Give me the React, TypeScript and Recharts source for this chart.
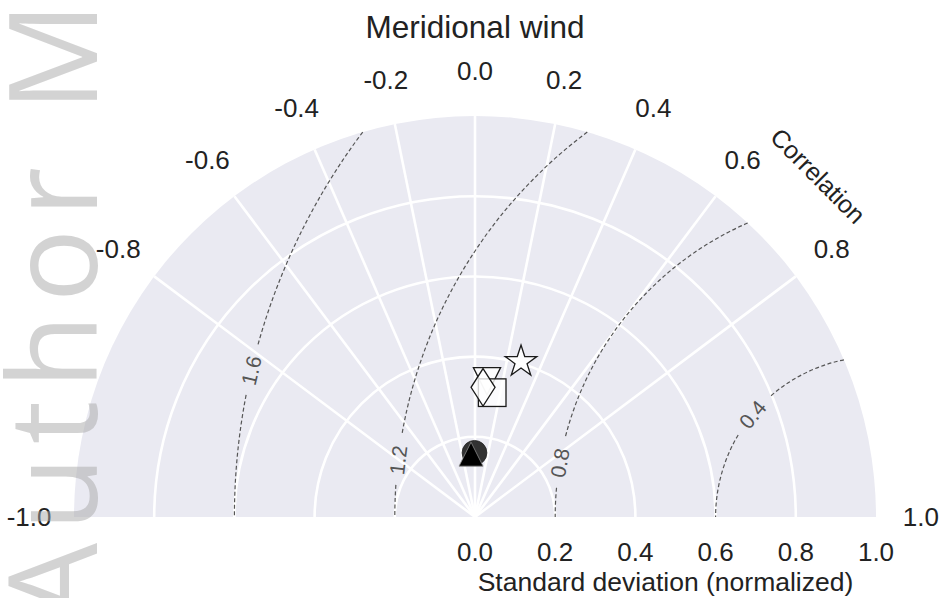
import React from 'react';
import { ScatterChart, Scatter, XAxis, YAxis, ReferenceLine } from 'recharts';

// model points (normalized std dev, correlation)
const modelNames = ['star', 'triDown', 'square', 'diamond', 'circle', 'triUp'];
const stdDevs = [0.404, 0.340, 0.313, 0.324, 0.160, 0.157];
const correlations = [0.284, 0.088, 0.137, 0.062, -0.008, -0.063];

// axes
const corrTicks = [-1.0, -0.8, -0.6, -0.4, -0.2, 0.0, 0.2, 0.4, 0.6, 0.8, 1.0];
const stdTicks = [0.0, 0.2, 0.4, 0.6, 0.8, 1.0];
const stdGrid = [0.2, 0.4, 0.6, 0.8];
const rmsLevels = [0.4, 0.8, 1.2, 1.6];

const FONT = '"Liberation Sans", Arial, Helvetica, sans-serif';
const BG = '#EAEAF2';
// where the inline rms labels sit, angle seen from the reference point (deg)
const rmsLabelAngle: Record<string, number> = { '0.4': 140.3, '0.8': 170.3, '1.2': 173.2, '1.6': 166.8 };

const data = modelNames.map((name, i) => {
  const s = stdDevs[i];
  const c = correlations[i];
  return { name, x: s * c, y: s * Math.sqrt(1 - c * c) };
});

const TaylorBackground = (props: any) => {
  const { x1, y1, x2 } = props;
  const cx = x1;
  const cy = y1;
  const R = x2 - x1;
  const pt = (s: number, c: number) => [cx + s * R * c, cy - s * R * Math.sqrt(Math.max(0, 1 - c * c))];
  const semi = (r: number) => `M ${cx - r} ${cy} A ${r} ${r} 0 0 1 ${cx + r} ${cy}`;

  const refX = cx + R;
  const onRms = (rho: number, phi: number) => [refX + rho * R * Math.cos(phi), cy - rho * R * Math.sin(phi)];

  return (
    <g>
      <path d={semi(R) + ' Z'} fill={BG} stroke="none" />
      {stdGrid.map((s) => (
        <path key={'g' + s} d={semi(s * R)} fill="none" stroke="#fff" strokeWidth={2.6} />
      ))}
      {corrTicks.filter((c) => Math.abs(c) < 1).map((c) => {
        const [px, py] = pt(1, c);
        return <line key={'r' + c} x1={cx} y1={cy} x2={px} y2={py} stroke="#fff" strokeWidth={2.6} />;
      })}

      {rmsLevels.map((rho) => {
        const label = rho.toFixed(1);
        const phi0 = Math.acos(-rho / 2);
        const phiL = (rmsLabelAngle[label] * Math.PI) / 180;
        const gap = 25 / (rho * R);
        const r = rho * R;
        const [ax, ay] = onRms(rho, phi0);
        const [bx, by] = onRms(rho, phiL - gap);
        const [ex, ey] = onRms(rho, phiL + gap);
        const [fx, fy] = onRms(rho, Math.PI);
        const [lx, ly] = onRms(rho, phiL);
        const rot = 90 - rmsLabelAngle[label];
        return (
          <g key={'rms' + rho}>
            <path
              d={`M ${ax} ${ay} A ${r} ${r} 0 0 0 ${bx} ${by} M ${ex} ${ey} A ${r} ${r} 0 0 0 ${fx} ${fy}`}
              fill="none"
              stroke="#555"
              strokeWidth={1.2}
              strokeDasharray="4 2.5"
            />
            <text
              x={lx}
              y={ly}
              transform={`rotate(${rot} ${lx} ${ly})`}
              textAnchor="middle"
              dominantBaseline="central"
              fontFamily={FONT}
              fontSize={21}
              fill="#555"
            >
              {label}
            </text>
          </g>
        );
      })}

      {corrTicks.map((c) => {
        const [px, py] = pt(1.112, c);
        return (
          <text key={'ct' + c} x={px} y={py} textAnchor="middle" dominantBaseline="central" fontFamily={FONT} fontSize={26} fill="#222">
            {c.toFixed(1)}
          </text>
        );
      })}
      {(() => {
        const [px, py] = pt(1.207, 0.709);
        return (
          <text x={px} y={py} transform={`rotate(45.1 ${px} ${py})`} textAnchor="middle" dominantBaseline="central" fontFamily={FONT} fontSize={25} fill="#222">
            Correlation
          </text>
        );
      })()}

      {stdTicks.map((v) => (
        <text key={'st' + v} x={cx + v * R} y={cy + 35} textAnchor="middle" dominantBaseline="central" fontFamily={FONT} fontSize={26} fill="#222">
          {v.toFixed(1)}
        </text>
      ))}
      <text x={cx + 0.475 * R} y={cy + 74} textAnchor="middle" fontFamily={FONT} fontSize={26.5} fill="#222">
        Standard deviation (normalized)
      </text>
      <text x={cx} y={cy - R - 78} textAnchor="middle" fontFamily={FONT} fontSize={31.5} fill="#222">
        Meridional wind
      </text>
    </g>
  );
};

const markerStyle = { stroke: '#1a1a1a', strokeWidth: 1.3, fill: '#fff', fillOpacity: 0.8 };

const Marker = (props: any) => {
  const { cx, cy, payload } = props;
  const kind = payload.name;
  if (kind === 'star') {
    const ro = 16.6;
    const ri = ro * 0.382;
    const pts = [];
    for (let k = 0; k < 10; k++) {
      const a = (-90 + k * 36) * (Math.PI / 180);
      const rr = k % 2 === 0 ? ro : ri;
      pts.push(`${cx + rr * Math.cos(a)},${cy + rr * Math.sin(a)}`);
    }
    return <polygon points={pts.join(' ')} {...markerStyle} fillOpacity={0.9} />;
  }
  if (kind === 'triDown') {
    const h = 13.6;
    return <polygon points={`${cx - h},${cy - h} ${cx + h},${cy - h} ${cx},${cy + h}`} {...markerStyle} />;
  }
  if (kind === 'square') {
    return <rect x={cx - 13.8} y={cy - 13.8} width={27.6} height={27.6} {...markerStyle} />;
  }
  if (kind === 'diamond') {
    return <polygon points={`${cx},${cy - 18.8} ${cx + 12},${cy} ${cx},${cy + 18.8} ${cx - 12},${cy}`} {...markerStyle} />;
  }
  if (kind === 'circle') {
    return <circle cx={cx} cy={cy} r={12.4} fill="#222" fillOpacity={0.92} stroke="#222" strokeWidth={0.8} />;
  }
  const h = 12;
  return <polygon points={`${cx},${cy - h} ${cx - h},${cy + h} ${cx + h},${cy + h}`} fill="#000" stroke="#888" strokeWidth={0.8} />;
};

export default function App() {
  return (
    <div style={{ position: 'absolute', left: 0, top: 0, width: 943, height: 598, background: '#fff' }}>
      <ScatterChart width={943} height={598} margin={{ top: 116, right: 67, bottom: 81, left: 74 }}>
        <XAxis type="number" dataKey="x" domain={[-1, 1]} hide allowDataOverflow />
        <YAxis type="number" dataKey="y" domain={[0, 1]} hide allowDataOverflow />
        <ReferenceLine segment={[{ x: 0, y: 0 }, { x: 1, y: 0 }]} shape={TaylorBackground} ifOverflow="visible" zIndex={-10} />
        {data.map((d) => (
          <Scatter key={d.name} data={[d]} shape={Marker} isAnimationActive={false} />
        ))}
      </ScatterChart>
      <svg width={943} height={598} style={{ position: 'absolute', left: 0, top: 0, pointerEvents: 'none' }}>
        <text
          x={97}
          y={620}
          transform="rotate(-90 97 620)"
          fontFamily='"Open Sans", "Liberation Sans", sans-serif'
          fontWeight={400}
          fontSize={122}
          textLength={618}
          lengthAdjust="spacing"
          fill="#a8a8a8"
          fillOpacity={0.5}
        >
          Author M
        </text>
      </svg>
    </div>
  );
}
